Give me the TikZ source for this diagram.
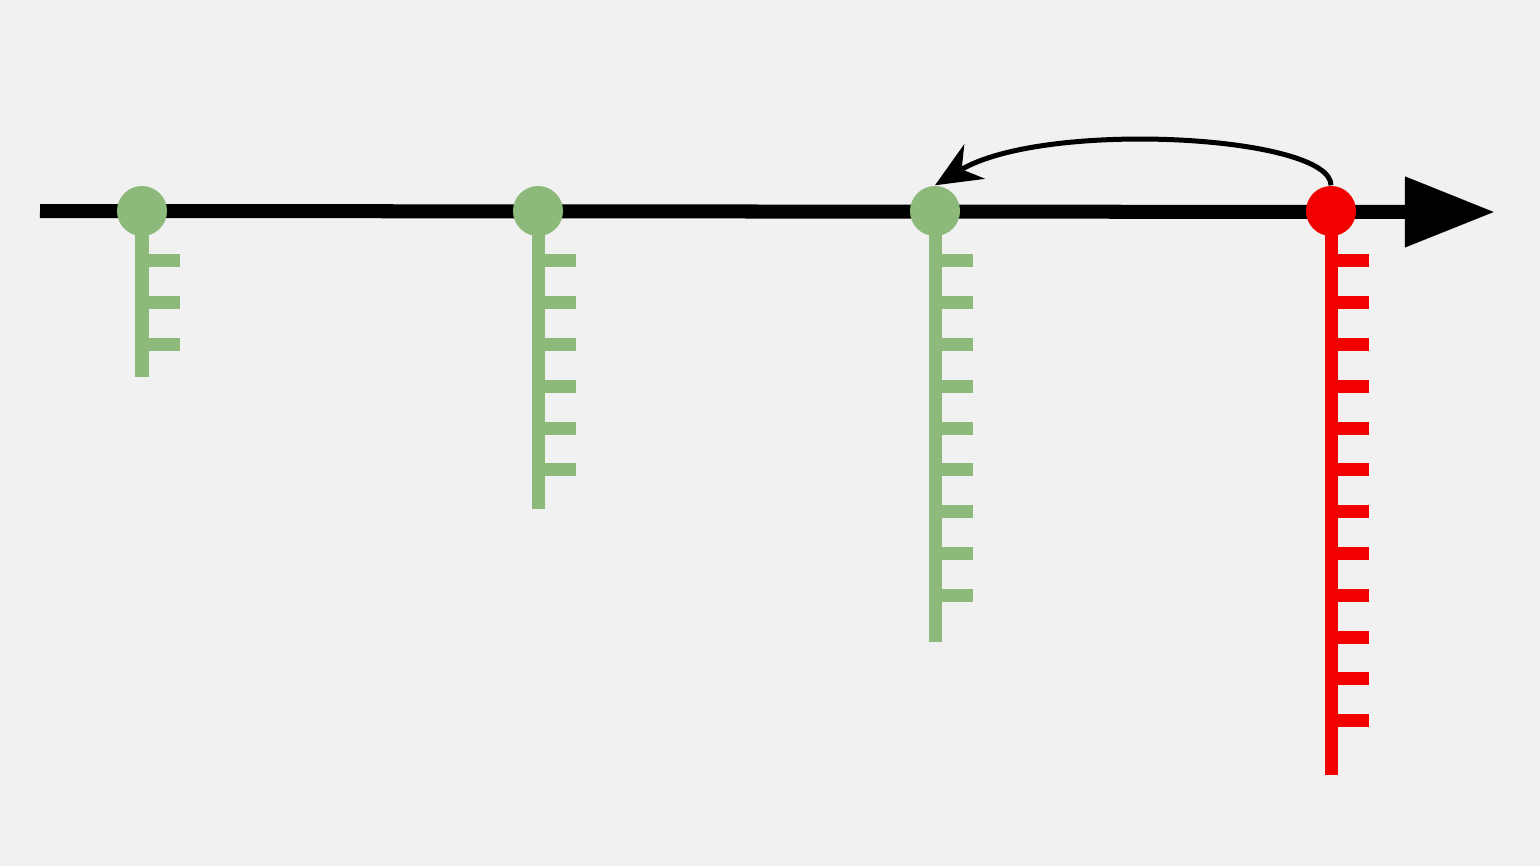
\documentclass[tikz,border=0pt]{standalone}
\usetikzlibrary{arrows.meta}
\definecolor{bgc}{HTML}{F1F1F1}
\definecolor{gr}{HTML}{8DB97A}
\definecolor{rd}{HTML}{F20000}
\begin{document}
\begin{tikzpicture}[x=0.01cm,y=-0.01cm,line cap=butt,line join=round,
	dot/.style={circle,fill=#1,inner sep=0pt,minimum size=0.5cm},
	stem/.style={draw=#1,line width=0.13cm}]
	\fill[bgc] (0,0) rectangle (1540,866);
	\draw[line width=0.14cm,-{Triangle[length=0.9cm,width=0.67cm]}] (40,211) -- (1495,212);
	\foreach \x/\n/\b/\c [count=\i] in {142/3/377/gr,538/6/509/gr,935/9/642/gr,1331/12/775/rd}{
		\draw[stem=\c] (\x,211) -- (\x,\b);
		\foreach \k in {1,...,\n} \draw[stem=\c] (\x,{219+41.8*\k}) -- ++(38,0);
		\node[dot=\c] (d\i) at (\x,211) {};
	}
	\draw[line width=0.05cm,-{Stealth[length=0.46cm,width=0.4cm]}] (d4.north) .. controls +(0,-50) and +(110,-66) .. (d3.north);
\end{tikzpicture}
\end{document}
